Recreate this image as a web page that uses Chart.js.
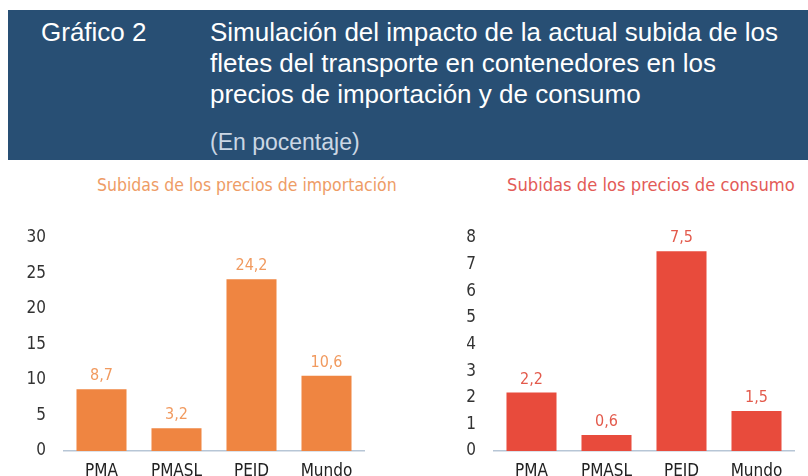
<!DOCTYPE html>
<html lang="es">
<head>
    <meta charset="UTF-8">
    <title>Gráfico 2</title>
    <script src="https://cdn.jsdelivr.net/npm/chart.js"></script>
    <style>
        html, body { margin: 0; padding: 0; background: #fff; }
        body { width: 808px; height: 476px; position: relative; overflow: hidden; font-family: "Liberation Sans", Arial, sans-serif; }
        .cabecera { position: absolute; left: 8px; top: 10px; width: 800px; height: 150px; background: #284f74; color: #fff; }
        .numero { position: absolute; left: 33px; top: 7px; font-size: 26px; line-height: 31px; }
        .titulo { position: absolute; left: 202px; top: 7px; font-size: 26px; line-height: 30.8px; width: 598px; white-space: nowrap; }
        .subtitulo { position: absolute; left: 202px; top: 119px; font-size: 23px; line-height: 26px; color: #cbd7e4; }
        .titulo-grafica { position: absolute; top: 174px; font-family: "DejaVu Sans Condensed", sans-serif; font-size: 17.5px; line-height: 22px; white-space: nowrap; }
        .grafica { position: absolute; top: 165px; }
    </style>
</head>
<body>
    <div class="cabecera">
        <div class="numero">Gráfico 2</div>
        <div class="titulo">Simulación del impacto de la actual subida de los<br>fletes del transporte en contenedores en los<br>precios de importación y de consumo</div>
        <div class="subtitulo">(En pocentaje)</div>
    </div>

    <div class="titulo-grafica" style="left:97px; color:#ee9c66">Subidas de los precios de importación</div>
    <div class="titulo-grafica" style="left:507px; color:#e35b57; font-size:18.2px">Subidas de los precios de consumo</div>

    <canvas id="importacion" class="grafica" width="404" height="311" style="left:0px"></canvas>
    <canvas id="consumo" class="grafica" width="404" height="311" style="left:404px"></canvas>

    <script>
        // datos
        const categorias = ['PMA', 'PMASL', 'PEID', 'Mundo'];
        const preciosImportacion = [8.7, 3.2, 24.2, 10.6];
        const preciosConsumo = [2.2, 0.6, 7.5, 1.5];
        const ticksImportacion = [0, 5, 10, 15, 20, 25, 30];
        const ticksConsumo = [0, 1, 2, 3, 4, 5, 6, 7, 8];

        const fuente = '"DejaVu Sans Condensed", sans-serif';

        // etiqueta del valor encima de cada barra (con coma decimal)
        const etiquetasValor = {
            id: 'etiquetasValor',
            afterDatasetsDraw(chart, args, opts) {
                const ctx = chart.ctx;
                const meta = chart.getDatasetMeta(0);
                const datos = chart.data.datasets[0].data;
                ctx.save();
                ctx.font = '16px ' + fuente;
                ctx.fillStyle = opts.color;
                ctx.textAlign = 'center';
                ctx.textBaseline = 'bottom';
                meta.data.forEach((barra, i) => {
                    ctx.fillText(datos[i].toFixed(1).replace('.', ','), barra.x, barra.y - 5);
                });
                ctx.restore();
            }
        };

        function crearGrafica(id, valores, colorBarra, colorEtiqueta, ticks, anchoEjeY, margenDerecho) {
            const ctx = document.getElementById(id).getContext('2d');
            return new Chart(ctx, {
                type: 'bar',
                data: {
                    labels: categorias,
                    datasets: [{
                        data: valores,
                        backgroundColor: colorBarra,
                        categoryPercentage: 1,
                        barPercentage: 0.667
                    }]
                },
                options: {
                    responsive: false,
                    animation: false,
                    devicePixelRatio: 1,
                    layout: { padding: { left: 0, right: margenDerecho, top: 73, bottom: 0 } },
                    plugins: {
                        legend: { display: false },
                        tooltip: { enabled: false },
                        etiquetasValor: { color: colorEtiqueta }
                    },
                    scales: {
                        x: {
                            grid: { display: false },
                            border: { color: '#b7c6d6', width: 1.5 },
                            ticks: { color: '#222', font: { family: fuente, size: 17 }, padding: 2 },
                            afterFit(s) { s.height = 25; }
                        },
                        y: {
                            min: ticks[0],
                            max: ticks[ticks.length - 1],
                            afterBuildTicks(s) { s.ticks = ticks.map(v => ({ value: v })); },
                            grid: { display: false },
                            border: { display: false },
                            ticks: { color: '#333', font: { family: fuente, size: 17 }, padding: 10 },
                            afterFit(s) { s.width = anchoEjeY; }
                        }
                    }
                },
                plugins: [etiquetasValor]
            });
        }

        crearGrafica('importacion', preciosImportacion, '#ef8541', '#f19a5f', ticksImportacion, 64, 40);
        crearGrafica('consumo', preciosConsumo, '#e84b3c', '#e35a4c', ticksConsumo, 90, 14);
    </script>
</body>
</html>
